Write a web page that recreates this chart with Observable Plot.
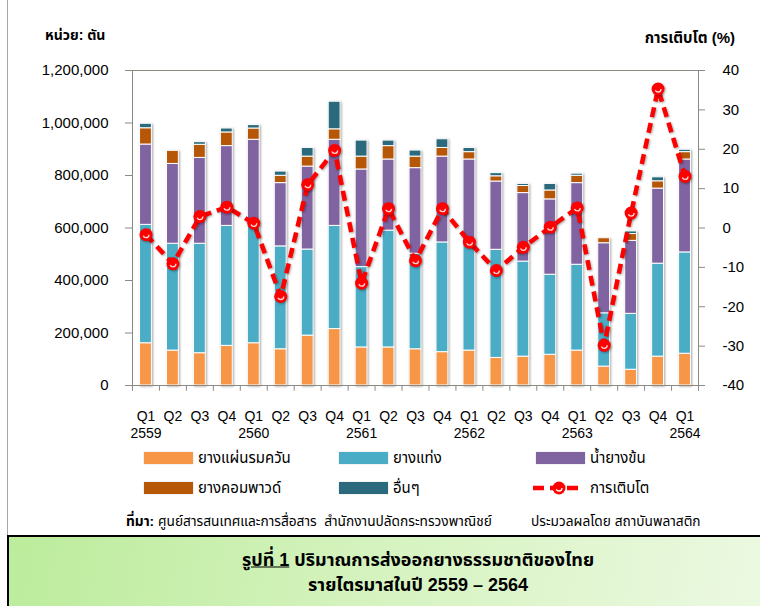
<!DOCTYPE html>
<html>
<head>
<meta charset="utf-8">
<script src="https://cdn.jsdelivr.net/npm/d3@7"></script>
<script src="https://cdn.jsdelivr.net/npm/@observablehq/plot@0.6"></script>
<style>
  html, body { margin: 0; padding: 0; background: #fff; }
  #wrap { position: relative; width: 760px; height: 606px; overflow: hidden; background: #fff;
          font-family: Tahoma, "Liberation Sans", "Noto Sans Thai", sans-serif; color: #000; }
  #wrap .abs { position: absolute; white-space: nowrap; line-height: 1; }
  #leftline { position: absolute; left: 7px; top: 0; width: 1px; height: 536px; background: #a6a6a6; }
  #chart { position: absolute; left: 0; top: 0; }
  .sw { position: absolute; width: 49px; height: 12px; box-shadow: 0 0 1px rgba(0,0,0,0.3); }
  .lg { position: absolute; font-size: 15px; transform: translateY(-50%); white-space: nowrap; }
  #titlebox { position: absolute; left: 7px; top: 535px; width: 760px; height: 71px;
              border-top: 2px solid #000; border-left: 2px solid #000; box-sizing: border-box;
              background: linear-gradient(100deg, #bcec9c 0%, #d6f3c0 50%, #ecf9e2 100%); }
  .title { position: absolute; left: 418px; transform: translate(-50%, -50%); font-size: 18px; font-weight: bold; white-space: nowrap; }
</style>
</head>
<body>
<div id="wrap">
  <div id="leftline"></div>
  <div id="chart"></div>
  <div class="abs" style="left:45px; top:28px; font-size:14px; font-weight:bold;">หน่วย: ตัน</div>
  <div class="abs" style="right:25px; top:30px; font-size:15px; font-weight:bold;">การเติบโต (%)</div>
  <div id="legend"></div>
  <div class="lg" style="left:126px; top:521px; font-size:13.7px;"><b>ที่มา:</b> ศูนย์สารสนเทศและการสื่อสาร&nbsp; สำนักงานปลัดกระทรวงพาณิชย์</div>
  <div class="lg" style="left:531px; top:521px; font-size:13.7px;">ประมวลผลโดย สถาบันพลาสติก</div>
  <div id="titlebox"></div>
  <div class="title" style="top:560px;"><u>รูปที่ 1</u> ปริมาณการส่งออกยางธรรมชาติของไทย</div>
  <div class="title" style="top:585px;">รายไตรมาสในปี 2559 – 2564</div>
</div>
<script>
// ---- data ----
const periods = ["Q1 2559","Q2 2559","Q3 2559","Q4 2559","Q1 2560","Q2 2560","Q3 2560","Q4 2560",
                 "Q1 2561","Q2 2561","Q3 2561","Q4 2561","Q1 2562","Q2 2562","Q3 2562","Q4 2562",
                 "Q1 2563","Q2 2563","Q3 2563","Q4 2563","Q1 2564"];
const seriesNames = ["ยางแผ่นรมควัน","ยางแท่ง","น้ำยางข้น","ยางคอมพาวด์","อื่นๆ"];
const seriesColors = ["#f79646","#4bacc6","#8064a2","#b65708","#2a6a7c"];
const smokedSheet = [161000,133000,123000,151000,161000,138000,190000,215000,145000,145000,138000,127000,133000,105000,110000,117000,133000,72000,60000,110000,121000];
const blockRubber = [451000,407000,417000,457000,451000,392000,328000,393000,306000,445000,364000,418000,407000,412000,362000,305000,327000,203000,213000,354000,386000];
const latex       = [306000,304000,327000,304000,324000,241000,316000,328000,372000,271000,326000,327000,321000,260000,261000,287000,311000,267000,278000,286000,354000];
const compound    = [62000,50000,50000,52000,43000,28000,38000,40000,49000,51000,44000,33000,28000,20000,27000,34000,28000,19000,26000,28000,28000];
const others      = [17000,0,10000,15000,13000,16000,33000,105000,61000,21000,23000,33000,16000,12000,8000,25000,8000,0,10000,15000,9000];
const growth      = [-1.7,-9.1,2.9,5.3,1.2,-17.4,11.0,19.7,-14.0,4.9,-8.3,4.9,-3.6,-10.8,-4.9,0.2,5.1,-29.8,3.8,35.3,13.1];
const leftTicks  = [0,200000,400000,600000,800000,1000000,1200000];
const rightTicks = [-40,-30,-20,-10,0,10,20,30,40];
const growthLegend = "การเติบโต";

// ---- build tables ----
const seriesValues = [smokedSheet, blockRubber, latex, compound, others];
const table = [];
seriesNames.forEach((s, k) => periods.forEach((p, i) => table.push({q: p, series: s, value: seriesValues[k][i]})));
const gTable = periods.map((p, i) => ({q: p, g: growth[i]}));

// right axis (-40..40) mapped onto the left domain (0..1,200,000)
const yMax = leftTicks[leftTicks.length - 1];
const gMin = rightTicks[0], gMax = rightTicks[rightTicks.length - 1];
const toLeft = g => (g - gMin) / (gMax - gMin) * yMax;
const fromLeft = v => Math.round(v / yMax * (gMax - gMin) + gMin);

const W = 760, mL = 132, mR = 62;
const step = (W - mL - mR) / periods.length;
const font = 'Tahoma, "Liberation Sans", "Noto Sans Thai", sans-serif';
const shadow = "drop-shadow(1px 1px 1.2px rgba(0,0,0,0.35))";

const chart = Plot.plot({
  width: W, height: 445,
  marginLeft: mL, marginRight: mR, marginTop: 70, marginBottom: 60,
  x: {domain: periods, paddingInner: 0.56, paddingOuter: 0.28, round: false, axis: null},
  y: {domain: [0, yMax], axis: null},
  color: {domain: seriesNames, range: seriesColors},
  style: {fontFamily: font, fontSize: "15px", color: "#000", background: "transparent", overflow: "visible"},
  marks: [
    Plot.barY(table, {x: "q", y: "value", fill: "series", order: seriesNames,
                      stroke: "white", strokeWidth: 1, imageFilter: shadow}),
    Plot.frame({stroke: "#8a8a80"}),
    Plot.axisY({anchor: "left", label: null, ticks: leftTicks, tickFormat: d3.format(","), tickSize: 7, tickPadding: 17,
                stroke: "#8a8a8a", fill: "#000", fontSize: 15}),
    Plot.axisY({anchor: "right", label: null, ticks: rightTicks.map(toLeft), tickFormat: fromLeft, tickSize: 6, tickPadding: 18,
                stroke: "#8a8a8a", fill: "#000", fontSize: 15}),
    Plot.ruleX(periods, {x: d => d, y1: 0, y2: -22000, dx: -step / 2, stroke: "#8a8a8a"}),
    Plot.ruleX(periods.slice(-1), {x: d => d, y1: 0, y2: -22000, dx: step / 2, stroke: "#8a8a8a"}),
    Plot.axisX({label: null, tickSize: 0, tickPadding: 24, fontSize: 14, lineHeight: 1.2, fill: "#000",
                tickFormat: d => { const [qq, yy] = d.split(" "); return qq === "Q1" ? qq + "\n" + yy : qq; }}),
    Plot.line(gTable, {x: "q", y: d => toLeft(d.g), stroke: "#ff0000", strokeWidth: 4.5,
                       strokeDasharray: "10,6", strokeLinecap: "butt", imageFilter: shadow}),
    Plot.dot(gTable, {x: "q", y: d => toLeft(d.g), r: 6.5, fill: "#ff0000", stroke: "none", imageFilter: shadow}),
    Plot.dot(gTable, {x: "q", y: d => toLeft(d.g), r: 3, fill: "none", stroke: "white", strokeWidth: 1.3,
                      strokeDasharray: "8,11", strokeOpacity: 0.85})
  ]
});
document.getElementById("chart").appendChild(chart);

// ---- legend ----
const legend = document.getElementById("legend");
const legendPos = [
  {x: 144, y: 458}, {x: 339, y: 458}, {x: 536, y: 458},
  {x: 144, y: 488}, {x: 339, y: 488}
];
seriesNames.forEach((s, k) => {
  const p = legendPos[k];
  const sw = document.createElement("div");
  sw.className = "sw";
  sw.style.left = p.x + "px"; sw.style.top = (p.y - 6) + "px"; sw.style.background = seriesColors[k];
  legend.appendChild(sw);
  const t = document.createElement("div");
  t.className = "lg"; t.textContent = s;
  t.style.left = (p.x + 54) + "px"; t.style.top = p.y + "px";
  legend.appendChild(t);
});
// growth legend item
const gsvg = document.createElementNS("http://www.w3.org/2000/svg", "svg");
gsvg.setAttribute("width", 52); gsvg.setAttribute("height", 16);
gsvg.style.position = "absolute"; gsvg.style.left = "532px"; gsvg.style.top = "480px";
gsvg.innerHTML = '<line x1="1" y1="8" x2="50" y2="8" stroke="#ff0000" stroke-width="4.5" stroke-dasharray="11,6"/>' +
                 '<circle cx="27" cy="8" r="6.5" fill="#ff0000"/>' +
                 '<circle cx="27" cy="8" r="3" fill="none" stroke="#fff" stroke-width="1.3" stroke-dasharray="8,11"/>';
legend.appendChild(gsvg);
const gt = document.createElement("div");
gt.className = "lg"; gt.textContent = growthLegend;
gt.style.left = "590px"; gt.style.top = "488px";
legend.appendChild(gt);
</script>
</body>
</html>
